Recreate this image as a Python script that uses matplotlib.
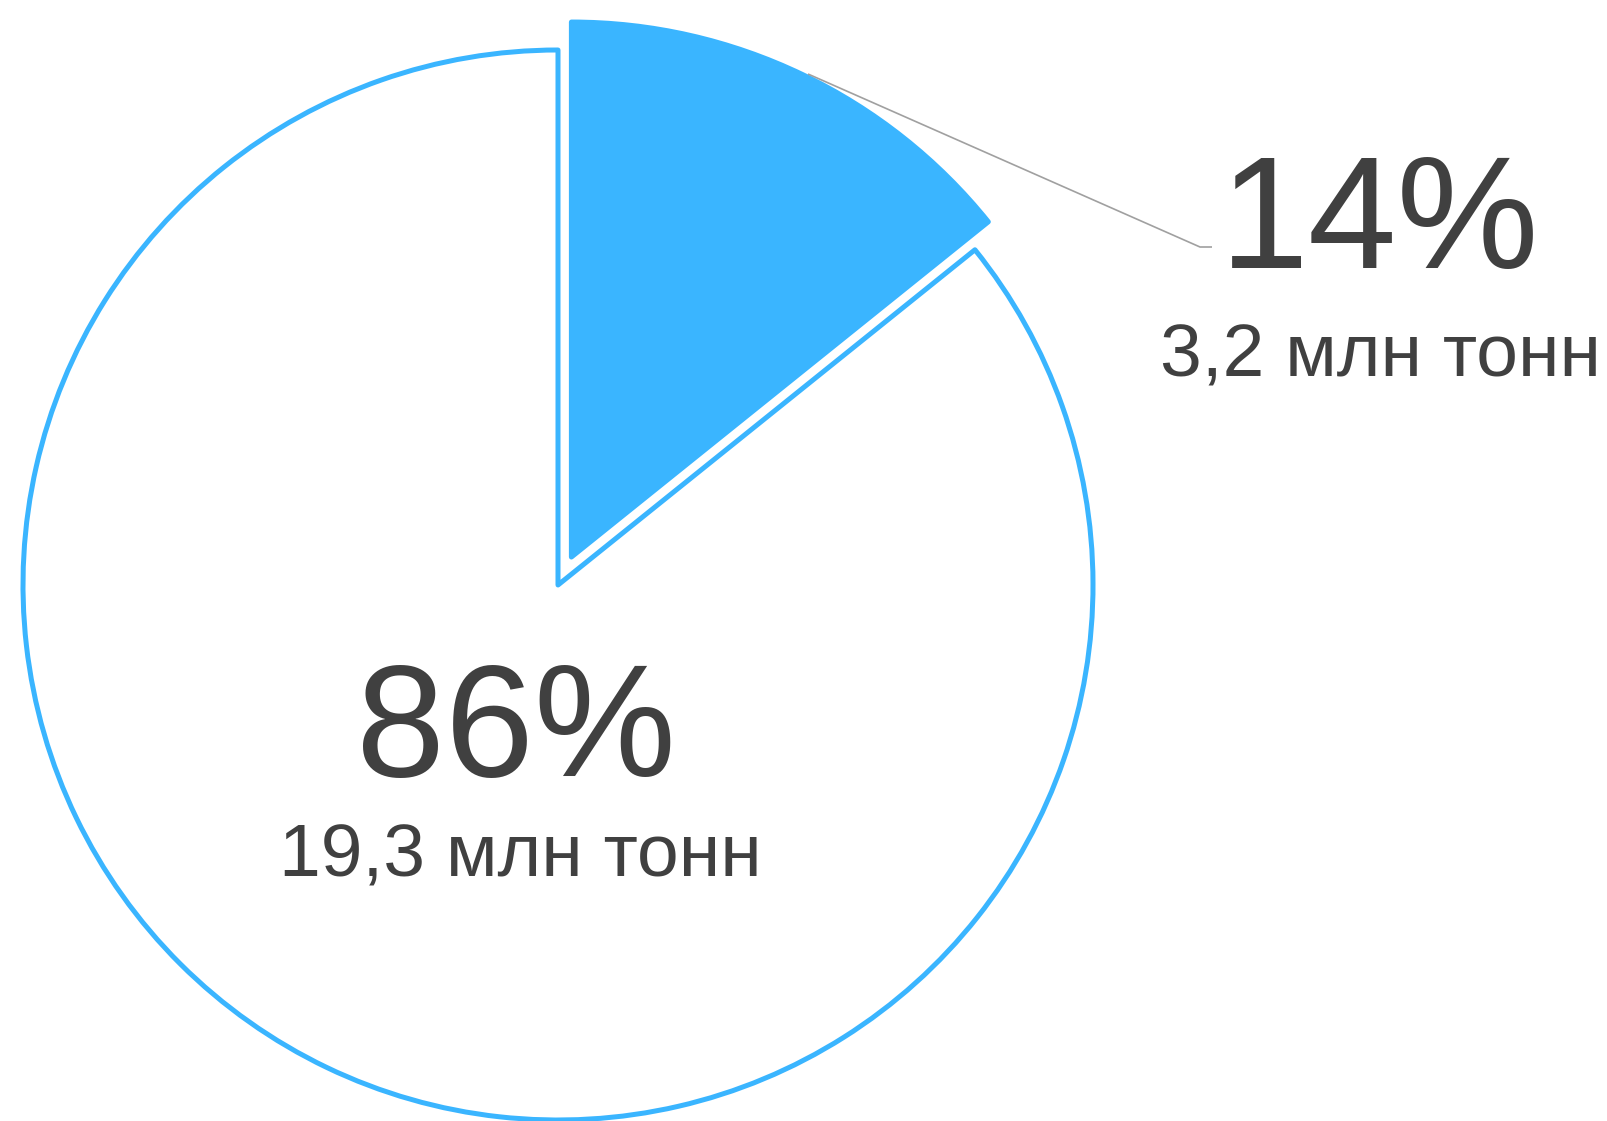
import matplotlib.pyplot as plt

# данные, млн тонн
tonnes = [3.2, 19.3]
percent_labels = ['14%', '86%']
tonnes_labels = ['3,2 млн тонн', '19,3 млн тонн']

blue = '#3ab5ff'
text_color = '#404040'

W, H = 1607, 1121
fig = plt.figure(figsize=(W / 100, H / 100), dpi=100)
ax = fig.add_axes([0, 0, 1, 1])

cx, cy, r = 558, H - 585, 535

# explode задаётся в единицах данных
wedges, _ = ax.pie(tonnes, explode=[31, 0], startangle=90, counterclock=False,
                   center=(cx, cy), radius=r, colors=[blue, 'white'], frame=True)
for w in wedges:
    w.set_edgecolor(blue)
    w.set_linewidth(3.6)
    w.set_joinstyle('round')

ax.set_xlim(0, W)
ax.set_ylim(0, H)
ax.set_aspect('equal')
ax.axis('off')

# выноска для малого сектора
ax.plot([808, 1200, 1212], [H - 74, H - 247, H - 247], color='#a0a0a0', lw=1.2,
        solid_capstyle='butt')

font = 'Liberation Sans'
ax.text(1380, H - 268, percent_labels[0], ha='center', va='baseline',
        fontsize=115, color=text_color, family=font)
ax.text(1380, H - 377, tonnes_labels[0], ha='center', va='baseline',
        fontsize=54, color=text_color, family=font)
ax.text(516, H - 776, percent_labels[1], ha='center', va='baseline',
        fontsize=115, color=text_color, family=font)
ax.text(520, H - 877, tonnes_labels[1], ha='center', va='baseline',
        fontsize=54, color=text_color, family=font)

fig.savefig('out.png', dpi=100, facecolor='white')
